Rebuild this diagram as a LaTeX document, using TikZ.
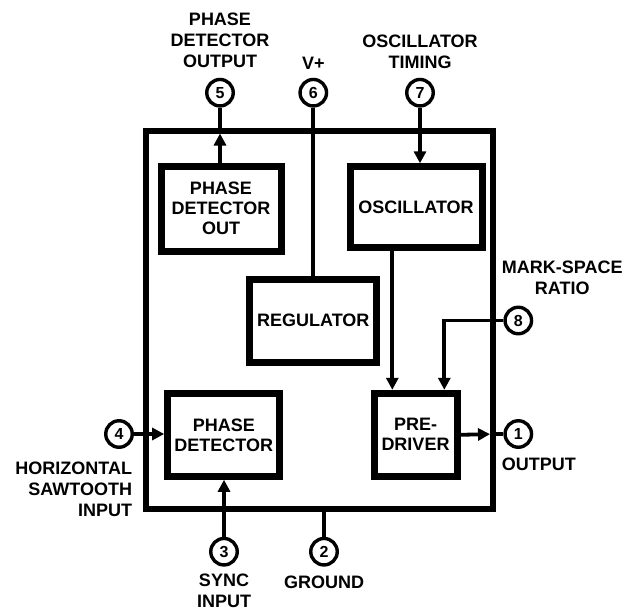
\documentclass[tikz,border=0pt]{standalone}
\usepackage{fontspec}
\setmainfont{Liberation Sans}
\usetikzlibrary{arrows.meta}
\begin{document}
\begin{tikzpicture}[x=1pt,y=-1pt,
  every node/.style={font=\bfseries\fontsize{18}{21}\selectfont},
  blockbox/.style={draw,line width=7pt,inner sep=0pt,align=center,font=\bfseries\fontsize{18}{20}\selectfont},
  pinc/.style={draw,circle,line width=3.4pt,minimum size=26.5pt,inner sep=0pt,font=\bfseries\fontsize{16}{16}\selectfont},
  lbl/.style={inner sep=0pt,align=center},
  wire/.style={line width=3.8pt},
  arr/.style={line width=3.8pt,-{Triangle[length=12pt,width=12pt]}}]
\useasboundingbox (0,0) rectangle (636,610);
% chip outline
\node[draw,line width=6pt,minimum width=347.5pt,minimum height=378.5pt,inner sep=0pt] (chip) at (319.25,319.75) {};
% blocks
\node[blockbox,minimum width=120pt,minimum height=85pt] (pdo) at (221,208.5) {PHASE\\DETECTOR\\OUT};
\node[blockbox,minimum width=132pt,minimum height=81pt] (osc) at (416,207.3) {OSCILLATOR};
\node[blockbox,minimum width=126.7pt,minimum height=83pt] (reg) at (313.3,320.5) {REGULATOR};
\node[blockbox,minimum width=112.3pt,minimum height=83pt] (pd) at (223.8,434.8) {PHASE\\DETECTOR};
\node[blockbox,minimum width=83pt,minimum height=83pt] (drv) at (415.5,434.8) {PRE-\\DRIVER};
% pins
\node[pinc] (p5) at (220,92.7) {5};
\node[pinc] (p6) at (313.3,92.7) {6};
\node[pinc] (p7) at (420,92.7) {7};
\node[pinc] (p8) at (518.3,320.5) {8};
\node[pinc] (p1) at (518.3,434) {1};
\node[pinc] (p4) at (119,434) {4};
\node[pinc] (p3) at (224,551.7) {3};
\node[pinc] (p2) at (324,551.7) {2};
% helper coordinates
\coordinate (k8) at (444.3,320.5);
\coordinate (k9) at (392.3,300);
% labels
\node[lbl,anchor=north] (l5) at (220,12.5) {PHASE\\DETECTOR\\OUTPUT};
\node[lbl,anchor=base] (l6) at (313.3,70) {V+};
\node[lbl,anchor=north] (l7) at (420,34.5) {OSCILLATOR\\TIMING};
\node[lbl,anchor=north west] (l8) at (501.7,260.5) {MARK-SPACE\\RATIO};
\node[lbl,anchor=base west] (l1) at (501.7,470) {OUTPUT};
\node[lbl,anchor=north east,align=right] (l4) at (132.3,462) {HORIZONTAL\\SAWTOOTH\\INPUT};
\node[lbl,anchor=north] (l3) at (224,573.5) {SYNC\\INPUT};
\node[lbl,anchor=base] (l2) at (324,588) {GROUND};
% connectors
\draw[wire] (p5) -- (p5 |- chip.north);
\draw[arr,shorten >=6pt] (p5 |- pdo.north) -- (p5 |- chip.north);
\draw[wire] (p6) -- (reg.north);
\draw[arr] (p7) -- (p7 |- osc.north);
\draw[arr] (k9 |- osc.south) -- (k9 |- drv.north);
\draw[arr] (p8) -- (k8) -- (k8 |- drv.north);
\draw[wire] (p1) -- (p1 -| chip.east);
\draw[arr,shorten >=6pt] (drv.east) -- (p1 -| chip.east);
\draw[arr] (p4) -- (p4 -| pd.west);
\draw[arr] (p3) -- (p3 |- pd.south);
\draw[wire] (p2) -- (p2 |- chip.south);
\end{tikzpicture}
\end{document}
